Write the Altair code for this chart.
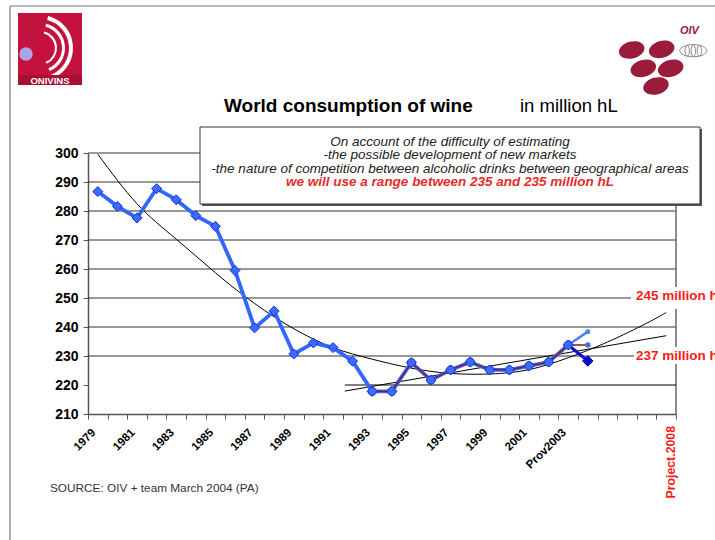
import altair as alt
import pandas as pd

FONT = "Liberation Sans"

# World wine consumption, million hL (1979-2003)
years = list(range(1979, 2004))
consumption = [286.7, 281.6, 277.6, 287.7, 283.9, 278.4, 274.7, 259.5, 239.7, 245.5,
               230.7, 234.5, 232.9, 228.2, 217.8, 217.8, 227.7, 221.7, 225.2, 227.9,
               225.2, 225.2, 226.6, 227.9, 233.8]

# recent series from 1993, carried to the 2004 estimate
recent_years = list(range(1993, 2005))
recent_values = [217.8, 217.8, 227.7, 221.7, 225.2, 227.9, 225.2, 225.2, 226.6,
                 227.9, 233.8, 233.8]

# low and high 2004 estimates
low_years = [2003, 2004]
low_values = [233.8, 228.3]
high_years = [2003, 2004]
high_values = [233.8, 238.4]

# long-run polynomial trend, projected to 2008
trend_years = [1979, 1981, 1983, 1985, 1987, 1989, 1991, 1993, 1995, 1997, 1999,
               2001, 2003, 2005, 2007, 2008]
trend_values = [299.6, 282.5, 270.3, 258.7, 248.1, 239.4, 232.9, 228.9, 225.8, 224.0,
                223.8, 225.3, 229.4, 234.8, 241.3, 245.0]

# linear trend of the recent years, projected to 2008
linear_years = [1991.6, 2008.0]
linear_values = [217.9, 237.0]

floor_years = [1991.6, 2008.5]
floor_values = [220, 220]

grid_values = [230, 240, 250, 260, 270, 280, 290, 300]
y_ticks = [210, 220, 230, 240, 250, 260, 270, 280, 290, 300]

label_years = [1979, 1981, 1983, 1985, 1987, 1989, 1991, 1993, 1995, 1997, 1999, 2001, 2003]
label_texts = ["1979", "1981", "1983", "1985", "1987", "1989", "1991", "1993", "1995",
               "1997", "1999", "2001", "Prov2003"]

# plot area placement on the page
X0, Y0, W, H = 88, 153, 588, 261


def vx(px):
    return px - X0


def vy(py):
    return py - Y0


band_edges = [1978.5 + k for k in range(31)]
xscale = alt.Scale(domain=[1978.5, 2008.5], nice=False, zero=False)
yscale = alt.Scale(domain=[210, 300], nice=False, zero=False)
xaxis = alt.Axis(values=band_edges, labels=False, ticks=True, tickSize=5, tickColor="#555",
                 tickWidth=1, domainColor="#555", domainWidth=1.5, grid=False, title=None)
yaxis = alt.Axis(values=y_ticks, format="d", labelFont=FONT, labelFontSize=14,
                 labelFontWeight="bold", labelColor="#000", labelPadding=5, tickSize=5,
                 tickColor="#555", tickWidth=1, domainColor="#555", domainWidth=1.5,
                 grid=False, title=None)


def X(field="year"):
    return alt.X(f"{field}:Q", scale=xscale, axis=xaxis)


def Y(field="value"):
    return alt.Y(f"{field}:Q", scale=yscale, axis=yaxis)


def series(xs, ys):
    return alt.Chart(pd.DataFrame({"year": xs, "value": ys}))


def text(s, x, y, **kw):
    props = dict(font=FONT, baseline="alphabetic", align="left")
    props.update(kw)
    return alt.Chart(pd.DataFrame({"text": [s]})).mark_text(**props).encode(
        x=alt.value(vx(x)), y=alt.value(vy(y)), text="text:N")


def box(x1, y1, x2, y2, **kw):
    return alt.Chart(pd.DataFrame({"k": [0]})).mark_rect(**kw).encode(
        x=alt.value(vx(x1)), x2=alt.value(vx(x2)), y=alt.value(vy(y1)), y2=alt.value(vy(y2)))


def ellipse_path(cx, rx, ry):
    k = 0.5523
    return (f"M {cx - rx} 0 C {cx - rx} {-k * ry} {cx - k * rx} {-ry} {cx} {-ry} "
            f"C {cx + k * rx} {-ry} {cx + rx} {-k * ry} {cx + rx} 0 "
            f"C {cx + rx} {k * ry} {cx + k * rx} {ry} {cx} {ry} "
            f"C {cx - k * rx} {ry} {cx - rx} {k * ry} {cx - rx} 0 Z")


layers = []

# gridlines and plot frame
layers.append(alt.Chart(pd.DataFrame({"value": grid_values})).mark_rule(
    color="#333", strokeWidth=1).encode(y=Y(), x=alt.value(0), x2=alt.value(W)))
layers.append(alt.Chart(pd.DataFrame({"year": [2008.5]})).mark_rule(
    color="#666", strokeWidth=1.5).encode(x=X(), y=alt.value(0), y2=alt.value(H)))
layers.append(series(floor_years, floor_values).mark_line(color="#000", strokeWidth=1).encode(x=X(), y=Y()))

# trend lines
layers.append(series(trend_years, trend_values).mark_line(
    color="#000", strokeWidth=1, interpolate="natural").encode(x=X(), y=Y()))
layers.append(series(linear_years, linear_values).mark_line(
    color="#000", strokeWidth=1).encode(x=X(), y=Y()))

# consumption series
layers.append(series(years, consumption).mark_line(color="#3366ff", strokeWidth=3.8).encode(x=X(), y=Y()))
layers.append(series(low_years, low_values).mark_line(color="#0a0acc", strokeWidth=3).encode(x=X(), y=Y()))
layers.append(series(high_years, high_values).mark_line(color="#4d80ff", strokeWidth=2.5).encode(x=X(), y=Y()))
layers.append(series(recent_years, recent_values).mark_line(color="#8b1a1a", strokeWidth=1.3).encode(x=X(), y=Y()))
layers.append(series(years, consumption).mark_point(
    shape="diamond", filled=True, size=100, fill="#3d6bff", stroke="#1530e0",
    strokeWidth=1, opacity=1).encode(x=X(), y=Y()))
layers.append(series(recent_years[:-1], recent_values[:-1]).mark_point(
    shape="circle", filled=True, size=70, fill="#3d6bff", stroke="#1f3fd0",
    strokeWidth=1, opacity=1).encode(x=X(), y=Y()))
layers.append(series(low_years[1:], low_values[1:]).mark_point(
    shape="diamond", filled=True, size=110, fill="#0a0acc", stroke="#0000aa",
    strokeWidth=1, opacity=1).encode(x=X(), y=Y()))
layers.append(series(recent_years[-1:], recent_values[-1:]).mark_point(
    shape="circle", filled=True, size=30, fill="#3d6bff", opacity=1).encode(x=X(), y=Y()))
layers.append(series(high_years[1:], high_values[1:]).mark_point(
    shape="circle", filled=True, size=25, fill="#4d80ff", opacity=1).encode(x=X(), y=Y()))

# category labels
layers.append(alt.Chart(pd.DataFrame({"year": label_years, "label": label_texts})).mark_text(
    angle=315, align="right", baseline="middle", dx=-2.5, dy=-2.5, font=FONT,
    fontSize=11.5, fontWeight="bold", color="#000").encode(
    x=X(), y=alt.value(vy(431)), text="label:N"))
layers.append(alt.Chart(pd.DataFrame({"text": ["Project.2008"]})).mark_text(
    angle=270, align="right", baseline="middle", font=FONT, fontSize=12.3,
    fontWeight="bold", color="#ff1a1a").encode(
    x=alt.value(vx(670.5)), y=alt.value(vy(426)), text="text:N"))

# projected level labels
layers.append(box(631, 287, 715, 309, fill="white"))
layers.append(box(634, 347, 715, 364, fill="white"))
layers.append(text("245 million hL", 636, 296, baseline="middle", fontSize=13.5,
                   fontWeight="bold", color="#ff1a1a"))
layers.append(text("237 million hL", 636, 355.5, baseline="middle", fontSize=13.5,
                   fontWeight="bold", color="#ff1a1a"))

# note box
layers.append(box(202, 129, 702, 206, fill="#555"))
layers.append(box(200, 127, 700, 204, fill="white", stroke="#333", strokeWidth=1))
layers.append(text("On account of the difficulty of estimating", 450, 145.5, align="center",
                   fontSize=13.5, fontStyle="italic", color="#222"))
layers.append(text("-the possible development of new markets", 450, 159, align="center",
                   fontSize=13.5, fontStyle="italic", color="#222"))
layers.append(text("-the nature of competition between alcoholic drinks between geographical areas",
                   450, 172.5, align="center", fontSize=13.5, fontStyle="italic", color="#222"))
layers.append(text("we will use a range between 235 and 235 million hL", 450, 186, align="center",
                   fontSize=13.5, fontStyle="italic", fontWeight="bold", color="#e62a2a"))

# titles and source
layers.append(text("World consumption of wine", 224, 112, fontSize=19, fontWeight="bold", color="#000"))
layers.append(text("in million hL", 520, 112, fontSize=18.5, color="#000"))
layers.append(text("SOURCE: OIV + team March 2004 (PA)", 50, 492, fontSize=11.8, color="#333"))

# page frame
layers.append(alt.Chart(pd.DataFrame({"k": [0]})).mark_rule(color="#777", strokeWidth=1.2).encode(
    x=alt.value(vx(10)), y=alt.value(vy(6)), y2=alt.value(vy(540))))
layers.append(alt.Chart(pd.DataFrame({"k": [0]})).mark_rule(color="#777", strokeWidth=1.2).encode(
    x=alt.value(vx(10)), x2=alt.value(vx(715)), y=alt.value(vy(6))))

# ONIVINS logo
layers.append(box(18, 13, 82, 85, fill="#c4123f"))
for r_out, r_in in [(33, 29), (25, 22), (17, 15)]:
    layers.append(alt.Chart(pd.DataFrame({"k": [0]})).mark_arc(color="#ffffff").encode(
        x=alt.value(vx(40)), y=alt.value(vy(48)), theta=alt.value(0.25), theta2=alt.value(2.75),
        radius=alt.value(r_out), radius2=alt.value(r_in)))
layers.append(alt.Chart(pd.DataFrame({"k": [0]})).mark_point(
    shape="circle", filled=True, size=180, fill="#aaa4e6", opacity=1).encode(
    x=alt.value(vx(26)), y=alt.value(vy(54))))
layers.append(box(18, 75, 82, 85, fill="#a80f33"))
layers.append(text("ONIVINS", 50, 83.5, align="center", fontSize=9.5, fontWeight="bold", color="#ffffff"))

# OIV logo
grape = ellipse_path(0, 1, 0.65)
for gx, gy in [(631.7, 50), (661.7, 49.3), (643.3, 68.3), (670.7, 68.3), (656, 86)]:
    layers.append(alt.Chart(pd.DataFrame({"k": [0]})).mark_point(
        shape=grape, filled=True, size=676, fill="#9b1b3b", opacity=1, angle=345).encode(
        x=alt.value(vx(gx)), y=alt.value(vy(gy))))
globe = " ".join([ellipse_path(0, 1, 0.45), ellipse_path(-0.45, 0.16, 0.4),
                  ellipse_path(0, 0.16, 0.43), ellipse_path(0.45, 0.16, 0.4)])
layers.append(alt.Chart(pd.DataFrame({"k": [0]})).mark_point(
    shape=globe, filled=False, size=729, stroke="#8a8a8a", strokeWidth=1, opacity=1).encode(
    x=alt.value(vx(693.3)), y=alt.value(vy(50.7))))
layers.append(text("OIV", 680, 34, fontSize=11, fontWeight="bold", fontStyle="italic", color="#9b1b3b"))

chart = alt.layer(*layers).properties(
    width=W, height=H,
    padding={"left": X0, "top": Y0, "right": 715 - X0 - W, "bottom": 540 - Y0 - H},
    autosize=alt.AutoSizeParams(type="none"),
    background="white",
).configure_view(stroke=None)

chart.save("out.html", embed_options={"renderer": "svg", "actions": False})
